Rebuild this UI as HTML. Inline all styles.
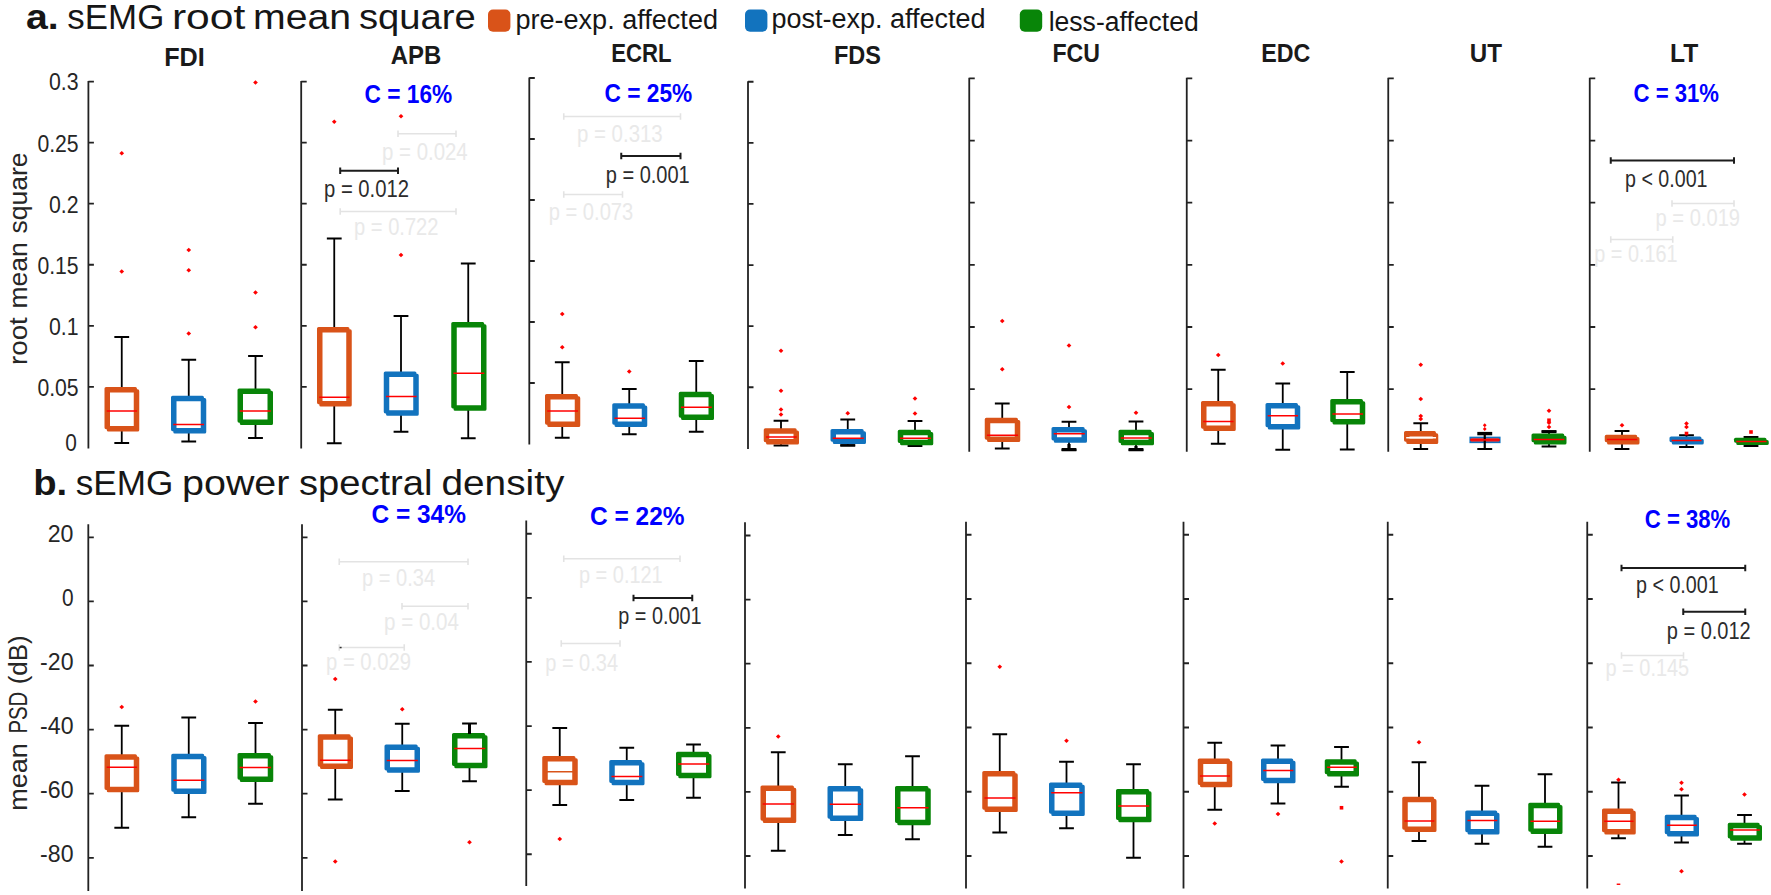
<!DOCTYPE html>
<html><head><meta charset="utf-8"><title>sEMG figure</title>
<style>
html,body{margin:0;padding:0;background:#fff;}
body{width:1771px;height:895px;overflow:hidden;}
svg{display:block;}
text{font-family:"Liberation Sans","DejaVu Sans",sans-serif;fill:#161616;}
.ttl{font-size:34.5px;}
.ttl2{font-size:35px;}
.ttb{font-weight:700;}
.lg{font-size:27px;}
.ml{font-size:26px;font-weight:700;fill:#1a1a1a;}
.tk{font-size:23.6px;fill:#262626;}
.tkb{font-size:24.2px;fill:#262626;}
.yl{font-size:26px;fill:#262626;}
.c{font-size:26px;font-weight:700;fill:#0000ff;}
.pd{font-size:23.5px;fill:#2c2c2c;}
.pg{font-size:23.5px;fill:#e9e9e9;}
.w{stroke:#000;stroke-width:1.8;fill:none;}
.ax{stroke:#222222;stroke-width:1.8;fill:none;}
</style></head><body>
<svg width="1771" height="895" viewBox="0 0 1771 895">
<rect width="1771" height="895" fill="#fff"/>
<text id="t0" x="25.92" y="29.30" class="ttl ttb" textLength="32.67" lengthAdjust="spacingAndGlyphs">a.</text>
<text id="t1" x="67.38" y="29.30" class="ttl" textLength="96.91" lengthAdjust="spacingAndGlyphs">sEMG</text>
<text id="t2" x="171.92" y="29.30" class="ttl" textLength="73.40" lengthAdjust="spacingAndGlyphs">root</text>
<text id="t3" x="253.14" y="29.30" class="ttl" textLength="98.05" lengthAdjust="spacingAndGlyphs">mean</text>
<text id="t4" x="358.91" y="29.30" class="ttl" textLength="116.81" lengthAdjust="spacingAndGlyphs">square</text>
<text id="t5" x="33.17" y="495.00" class="ttl2 ttb" textLength="34.00" lengthAdjust="spacingAndGlyphs">b.</text>
<text id="t6" x="75.77" y="495.00" class="ttl2" textLength="97.58" lengthAdjust="spacingAndGlyphs">sEMG</text>
<text id="t7" x="182.00" y="495.00" class="ttl2" textLength="107.44" lengthAdjust="spacingAndGlyphs">power</text>
<text id="t8" x="298.99" y="495.00" class="ttl2" textLength="133.53" lengthAdjust="spacingAndGlyphs">spectral</text>
<text id="t9" x="441.50" y="495.00" class="ttl2" textLength="122.79" lengthAdjust="spacingAndGlyphs">density</text>
<rect x="488" y="9.5" width="22.4" height="22.3" rx="5" ry="5" fill="#D95319"/>
<text id="t10" x="515.45" y="29.00" class="lg" textLength="202.54" lengthAdjust="spacingAndGlyphs">pre-exp. affected</text>
<rect x="745" y="9.5" width="22.4" height="22.3" rx="5" ry="5" fill="#1273BE"/>
<text id="t11" x="771.48" y="27.80" class="lg" textLength="214.06" lengthAdjust="spacingAndGlyphs">post-exp. affected</text>
<rect x="1019.8" y="9.5" width="22.4" height="22.3" rx="5" ry="5" fill="#088508"/>
<text id="t12" x="1048.69" y="30.50" class="lg" textLength="150.04" lengthAdjust="spacingAndGlyphs">less-affected</text>
<text id="t13" x="164.18" y="66.20" class="ml" textLength="40.64" lengthAdjust="spacingAndGlyphs">FDI</text>
<text id="t14" x="390.68" y="63.70" class="ml" textLength="50.54" lengthAdjust="spacingAndGlyphs">APB</text>
<text id="t15" x="611.25" y="62.00" class="ml" textLength="60.27" lengthAdjust="spacingAndGlyphs">ECRL</text>
<text id="t16" x="834.00" y="64.30" class="ml" textLength="47.00" lengthAdjust="spacingAndGlyphs">FDS</text>
<text id="t17" x="1052.46" y="62.00" class="ml" textLength="47.54" lengthAdjust="spacingAndGlyphs">FCU</text>
<text id="t18" x="1261.23" y="62.00" class="ml" textLength="49.06" lengthAdjust="spacingAndGlyphs">EDC</text>
<text id="t19" x="1469.77" y="62.00" class="ml" textLength="32.23" lengthAdjust="spacingAndGlyphs">UT</text>
<text id="t20" x="1670.00" y="62.00" class="ml" textLength="28.27" lengthAdjust="spacingAndGlyphs">LT</text>
<path d="M88.40 81.10V448.50M88.40 81.60h5.5M88.40 142.65h5.5M88.40 203.70h5.5M88.40 264.75h5.5M88.40 325.80h5.5M88.40 386.85h5.5" class="ax"/>
<path d="M301.20 81.10V448.50M301.20 81.60h5.5M301.20 142.65h5.5M301.20 203.70h5.5M301.20 264.75h5.5M301.20 325.80h5.5M301.20 386.85h5.5" class="ax"/>
<path d="M529.30 77.60V444.50M529.30 78.00h5.5M529.30 139.00h5.5M529.30 200.00h5.5M529.30 261.00h5.5M529.30 322.00h5.5M529.30 383.00h5.5" class="ax"/>
<path d="M748.00 81.20V449.00M748.00 81.75h5.5M748.00 142.85h5.5M748.00 203.95h5.5M748.00 265.05h5.5M748.00 326.15h5.5M748.00 387.25h5.5" class="ax"/>
<path d="M969.25 77.80V451.75M969.25 78.40h5.5M969.25 140.55h5.5M969.25 202.70h5.5M969.25 264.85h5.5M969.25 327.00h5.5M969.25 389.15h5.5" class="ax"/>
<path d="M1186.75 77.80V451.75M1186.75 78.40h5.5M1186.75 140.55h5.5M1186.75 202.70h5.5M1186.75 264.85h5.5M1186.75 327.00h5.5M1186.75 389.15h5.5" class="ax"/>
<path d="M1388.25 77.80V451.75M1388.25 78.40h5.5M1388.25 140.55h5.5M1388.25 202.70h5.5M1388.25 264.85h5.5M1388.25 327.00h5.5M1388.25 389.15h5.5" class="ax"/>
<path d="M1589.75 77.80V451.75M1589.75 78.40h5.5M1589.75 140.55h5.5M1589.75 202.70h5.5M1589.75 264.85h5.5M1589.75 327.00h5.5M1589.75 389.15h5.5" class="ax"/>
<text id="t21" x="49.00" y="90.40" class="tk" textLength="29.60" lengthAdjust="spacingAndGlyphs">0.3</text>
<text id="t22" x="37.40" y="151.50" class="tk" textLength="41.20" lengthAdjust="spacingAndGlyphs">0.25</text>
<text id="t23" x="49.00" y="212.60" class="tk" textLength="29.60" lengthAdjust="spacingAndGlyphs">0.2</text>
<text id="t24" x="37.40" y="273.70" class="tk" textLength="41.20" lengthAdjust="spacingAndGlyphs">0.15</text>
<text id="t25" x="49.00" y="334.80" class="tk" textLength="29.60" lengthAdjust="spacingAndGlyphs">0.1</text>
<text id="t26" x="37.40" y="395.90" class="tk" textLength="41.20" lengthAdjust="spacingAndGlyphs">0.05</text>
<text id="t27" x="65.20" y="451.40" class="tk" textLength="11.60" lengthAdjust="spacingAndGlyphs">0</text>
<text id="t28" x="47.70" y="541.65" class="tkb" textLength="25.80" lengthAdjust="spacingAndGlyphs">20</text>
<text id="t29" x="61.90" y="605.90" class="tkb" textLength="11.60" lengthAdjust="spacingAndGlyphs">0</text>
<text id="t30" x="40.10" y="669.90" class="tkb" textLength="33.40" lengthAdjust="spacingAndGlyphs">-20</text>
<text id="t31" x="40.10" y="734.40" class="tkb" textLength="33.40" lengthAdjust="spacingAndGlyphs">-40</text>
<text id="t32" x="40.10" y="798.40" class="tkb" textLength="33.40" lengthAdjust="spacingAndGlyphs">-60</text>
<text id="t33" x="40.10" y="862.40" class="tkb" textLength="33.40" lengthAdjust="spacingAndGlyphs">-80</text>
<text transform="translate(26.5 364.90) rotate(-90)" class="yl" textLength="47.60" lengthAdjust="spacingAndGlyphs">root</text>
<text transform="translate(26.5 308.60) rotate(-90)" class="yl" textLength="66.40" lengthAdjust="spacingAndGlyphs">mean</text>
<text transform="translate(26.5 233.50) rotate(-90)" class="yl" textLength="81.10" lengthAdjust="spacingAndGlyphs">square</text>
<text transform="translate(26.5 810.80) rotate(-90)" class="yl" textLength="67.60" lengthAdjust="spacingAndGlyphs">mean</text>
<text transform="translate(26.5 733.50) rotate(-90)" class="yl" textLength="41.80" lengthAdjust="spacingAndGlyphs">PSD</text>
<text transform="translate(26.5 684.30) rotate(-90)" class="yl" textLength="48.90" lengthAdjust="spacingAndGlyphs">(dB)</text>
<path d="M121.75 388.00V337.00M114.35 337.00H129.15" class="w"/><path d="M121.75 430.00V443.00M114.35 443.00H129.15" class="w"/><rect x="106.10" y="388.60" width="29.25" height="39.00" fill="none" stroke="#D95319" stroke-width="3.2" stroke-linejoin="round"/><rect x="108.40" y="390.90" width="29.25" height="39.00" fill="none" stroke="#D95319" stroke-width="3.2" stroke-linejoin="round"/><path d="M106.70 411.00H137.05" stroke="#ff0000" stroke-width="1.5" fill="none"/><path d="M119.40 153.25L121.75 151.05L124.10 153.25L121.75 155.45Z" fill="#ff0000"/><path d="M119.40 271.50L121.75 269.30L124.10 271.50L121.75 273.70Z" fill="#ff0000"/>
<path d="M188.75 396.75V359.75M181.35 359.75H196.15" class="w"/><path d="M188.75 432.00V441.50M181.35 441.50H196.15" class="w"/><rect x="172.60" y="397.35" width="29.75" height="32.25" fill="none" stroke="#1273BE" stroke-width="3.2" stroke-linejoin="round"/><rect x="174.90" y="399.65" width="29.75" height="32.25" fill="none" stroke="#1273BE" stroke-width="3.2" stroke-linejoin="round"/><path d="M173.20 424.50H204.05" stroke="#ff0000" stroke-width="1.5" fill="none"/><path d="M186.40 250.00L188.75 247.80L191.10 250.00L188.75 252.20Z" fill="#ff0000"/><path d="M186.40 270.25L188.75 268.05L191.10 270.25L188.75 272.45Z" fill="#ff0000"/><path d="M186.40 333.50L188.75 331.30L191.10 333.50L188.75 335.70Z" fill="#ff0000"/>
<path d="M255.50 389.50V356.00M248.10 356.00H262.90" class="w"/><path d="M255.50 423.50V438.00M248.10 438.00H262.90" class="w"/><rect x="239.10" y="390.10" width="30.00" height="31.00" fill="none" stroke="#088508" stroke-width="3.2" stroke-linejoin="round"/><rect x="241.40" y="392.40" width="30.00" height="31.00" fill="none" stroke="#088508" stroke-width="3.2" stroke-linejoin="round"/><path d="M239.70 411.00H270.80" stroke="#ff0000" stroke-width="1.5" fill="none"/><path d="M253.15 82.50L255.50 80.30L257.85 82.50L255.50 84.70Z" fill="#ff0000"/><path d="M253.15 292.50L255.50 290.30L257.85 292.50L255.50 294.70Z" fill="#ff0000"/><path d="M253.15 327.25L255.50 325.05L257.85 327.25L255.50 329.45Z" fill="#ff0000"/>
<path d="M334.25 328.00V238.50M326.85 238.50H341.65" class="w"/><path d="M334.25 405.00V443.25M326.85 443.25H341.65" class="w"/><rect x="318.60" y="328.60" width="29.25" height="74.00" fill="none" stroke="#D95319" stroke-width="3.2" stroke-linejoin="round"/><rect x="320.90" y="330.90" width="29.25" height="74.00" fill="none" stroke="#D95319" stroke-width="3.2" stroke-linejoin="round"/><path d="M319.20 397.25H349.55" stroke="#ff0000" stroke-width="1.5" fill="none"/><path d="M331.90 121.75L334.25 119.55L336.60 121.75L334.25 123.95Z" fill="#ff0000"/>
<path d="M401.00 372.50V316.00M393.60 316.00H408.40" class="w"/><path d="M401.00 414.25V431.75M393.60 431.75H408.40" class="w"/><rect x="385.35" y="373.10" width="29.50" height="38.75" fill="none" stroke="#1273BE" stroke-width="3.2" stroke-linejoin="round"/><rect x="387.65" y="375.40" width="29.50" height="38.75" fill="none" stroke="#1273BE" stroke-width="3.2" stroke-linejoin="round"/><path d="M385.95 396.50H416.55" stroke="#ff0000" stroke-width="1.5" fill="none"/><path d="M398.65 116.25L401.00 114.05L403.35 116.25L401.00 118.45Z" fill="#ff0000"/><path d="M398.65 255.00L401.00 252.80L403.35 255.00L401.00 257.20Z" fill="#ff0000"/>
<path d="M468.25 323.00V263.50M460.85 263.50H475.65" class="w"/><path d="M468.25 409.25V438.25M460.85 438.25H475.65" class="w"/><rect x="452.85" y="323.60" width="29.75" height="83.25" fill="none" stroke="#088508" stroke-width="3.2" stroke-linejoin="round"/><rect x="455.15" y="325.90" width="29.75" height="83.25" fill="none" stroke="#088508" stroke-width="3.2" stroke-linejoin="round"/><path d="M453.45 373.25H484.30" stroke="#ff0000" stroke-width="1.5" fill="none"/>
<path d="M562.25 395.00V362.25M554.85 362.25H569.65" class="w"/><path d="M562.25 425.50V437.75M554.85 437.75H569.65" class="w"/><rect x="546.60" y="395.60" width="29.75" height="27.50" fill="none" stroke="#D95319" stroke-width="3.2" stroke-linejoin="round"/><rect x="548.90" y="397.90" width="29.75" height="27.50" fill="none" stroke="#D95319" stroke-width="3.2" stroke-linejoin="round"/><path d="M547.20 411.00H578.05" stroke="#ff0000" stroke-width="1.5" fill="none"/><path d="M559.90 314.00L562.25 311.80L564.60 314.00L562.25 316.20Z" fill="#ff0000"/><path d="M559.90 347.25L562.25 345.05L564.60 347.25L562.25 349.45Z" fill="#ff0000"/>
<path d="M629.25 404.25V389.00M621.85 389.00H636.65" class="w"/><path d="M629.25 425.50V434.25M621.85 434.25H636.65" class="w"/><rect x="613.85" y="404.85" width="29.50" height="18.25" fill="none" stroke="#1273BE" stroke-width="3.2" stroke-linejoin="round"/><rect x="616.15" y="407.15" width="29.50" height="18.25" fill="none" stroke="#1273BE" stroke-width="3.2" stroke-linejoin="round"/><path d="M614.45 418.25H645.05" stroke="#ff0000" stroke-width="1.5" fill="none"/><path d="M626.90 371.50L629.25 369.30L631.60 371.50L629.25 373.70Z" fill="#ff0000"/>
<path d="M696.25 392.75V361.00M688.85 361.00H703.65" class="w"/><path d="M696.25 418.50V431.75M688.85 431.75H703.65" class="w"/><rect x="680.35" y="393.35" width="29.75" height="22.75" fill="none" stroke="#088508" stroke-width="3.2" stroke-linejoin="round"/><rect x="682.65" y="395.65" width="29.75" height="22.75" fill="none" stroke="#088508" stroke-width="3.2" stroke-linejoin="round"/><path d="M680.95 407.25H711.80" stroke="#ff0000" stroke-width="1.5" fill="none"/>
<path d="M781.00 429.25V420.75M773.60 420.75H788.40" class="w"/><path d="M781.00 443.00V445.50M773.60 445.50H788.40" class="w"/><rect x="765.35" y="429.85" width="29.75" height="10.75" fill="none" stroke="#D95319" stroke-width="3.2" stroke-linejoin="round"/><rect x="767.65" y="432.15" width="29.75" height="10.75" fill="none" stroke="#D95319" stroke-width="3.2" stroke-linejoin="round"/><path d="M765.95 437.00H796.80" stroke="#ff0000" stroke-width="1.5" fill="none"/><path d="M778.65 350.75L781.00 348.55L783.35 350.75L781.00 352.95Z" fill="#ff0000"/><path d="M778.65 390.75L781.00 388.55L783.35 390.75L781.00 392.95Z" fill="#ff0000"/><path d="M778.65 409.50L781.00 407.30L783.35 409.50L781.00 411.70Z" fill="#ff0000"/><path d="M778.65 414.50L781.00 412.30L783.35 414.50L781.00 416.70Z" fill="#ff0000"/>
<path d="M847.75 430.00V419.50M840.35 419.50H855.15" class="w"/><path d="M847.75 442.50V445.30M840.35 445.30H855.15" class="w"/><rect x="832.10" y="430.60" width="30.00" height="9.50" fill="none" stroke="#1273BE" stroke-width="3.2" stroke-linejoin="round"/><rect x="834.40" y="432.90" width="30.00" height="9.50" fill="none" stroke="#1273BE" stroke-width="3.2" stroke-linejoin="round"/><path d="M832.70 438.25H863.80" stroke="#ff0000" stroke-width="1.5" fill="none"/><path d="M845.40 413.25L847.75 411.05L850.10 413.25L847.75 415.45Z" fill="#ff0000"/>
<path d="M915.00 430.75V421.00M907.60 421.00H922.40" class="w"/><path d="M915.00 443.75V446.00M907.60 446.00H922.40" class="w"/><rect x="899.35" y="431.35" width="30.00" height="10.00" fill="none" stroke="#088508" stroke-width="3.2" stroke-linejoin="round"/><rect x="901.65" y="433.65" width="30.00" height="10.00" fill="none" stroke="#088508" stroke-width="3.2" stroke-linejoin="round"/><path d="M899.95 438.25H931.05" stroke="#ff0000" stroke-width="1.5" fill="none"/><path d="M912.65 398.50L915.00 396.30L917.35 398.50L915.00 400.70Z" fill="#ff0000"/><path d="M912.65 413.50L915.00 411.30L917.35 413.50L915.00 415.70Z" fill="#ff0000"/>
<path d="M1002.25 418.75V403.50M994.85 403.50H1009.65" class="w"/><path d="M1002.25 440.50V448.50M994.85 448.50H1009.65" class="w"/><rect x="986.35" y="419.35" width="30.00" height="18.75" fill="none" stroke="#D95319" stroke-width="3.2" stroke-linejoin="round"/><rect x="988.65" y="421.65" width="30.00" height="18.75" fill="none" stroke="#D95319" stroke-width="3.2" stroke-linejoin="round"/><path d="M986.95 435.25H1018.05" stroke="#ff0000" stroke-width="1.5" fill="none"/><path d="M999.90 321.00L1002.25 318.80L1004.60 321.00L1002.25 323.20Z" fill="#ff0000"/><path d="M999.90 369.25L1002.25 367.05L1004.60 369.25L1002.25 371.45Z" fill="#ff0000"/>
<path d="M1069.00 428.00V421.75M1061.60 421.75H1076.40" class="w"/><path d="M1069.00 441.25V450.00M1061.60 450.00H1076.40" class="w"/><rect x="1053.10" y="428.60" width="30.00" height="10.25" fill="none" stroke="#1273BE" stroke-width="3.2" stroke-linejoin="round"/><rect x="1055.40" y="430.90" width="30.00" height="10.25" fill="none" stroke="#1273BE" stroke-width="3.2" stroke-linejoin="round"/><path d="M1053.70 433.75H1084.80" stroke="#ff0000" stroke-width="1.5" fill="none"/><path d="M1066.65 345.50L1069.00 343.30L1071.35 345.50L1069.00 347.70Z" fill="#ff0000"/><path d="M1066.65 407.00L1069.00 404.80L1071.35 407.00L1069.00 409.20Z" fill="#ff0000"/>
<path d="M1136.00 430.75V421.50M1128.60 421.50H1143.40" class="w"/><path d="M1136.00 443.75V450.00M1128.60 450.00H1143.40" class="w"/><rect x="1120.10" y="431.35" width="30.00" height="10.00" fill="none" stroke="#088508" stroke-width="3.2" stroke-linejoin="round"/><rect x="1122.40" y="433.65" width="30.00" height="10.00" fill="none" stroke="#088508" stroke-width="3.2" stroke-linejoin="round"/><path d="M1120.70 438.00H1151.80" stroke="#ff0000" stroke-width="1.5" fill="none"/><path d="M1133.65 412.75L1136.00 410.55L1138.35 412.75L1136.00 414.95Z" fill="#ff0000"/>
<path d="M1069 444V450M1061.6 449.6H1076.4M1136 446V450M1128.6 449.6H1143.4" class="w" style="stroke-width:3.2px"/>
<path d="M840.3 445.4H855.2" class="w" style="stroke-width:2.6px"/>
<path d="M1218.25 402.00V369.75M1210.85 369.75H1225.65" class="w"/><path d="M1218.25 429.50V443.75M1210.85 443.75H1225.65" class="w"/><rect x="1202.60" y="402.60" width="29.25" height="24.50" fill="none" stroke="#D95319" stroke-width="3.2" stroke-linejoin="round"/><rect x="1204.90" y="404.90" width="29.25" height="24.50" fill="none" stroke="#D95319" stroke-width="3.2" stroke-linejoin="round"/><path d="M1203.20 421.50H1233.55" stroke="#ff0000" stroke-width="1.5" fill="none"/><path d="M1215.90 355.00L1218.25 352.80L1220.60 355.00L1218.25 357.20Z" fill="#ff0000"/>
<path d="M1282.75 404.00V383.50M1275.35 383.50H1290.15" class="w"/><path d="M1282.75 428.00V449.75M1275.35 449.75H1290.15" class="w"/><rect x="1267.10" y="404.60" width="29.25" height="21.00" fill="none" stroke="#1273BE" stroke-width="3.2" stroke-linejoin="round"/><rect x="1269.40" y="406.90" width="29.25" height="21.00" fill="none" stroke="#1273BE" stroke-width="3.2" stroke-linejoin="round"/><path d="M1267.70 415.75H1298.05" stroke="#ff0000" stroke-width="1.5" fill="none"/><path d="M1280.40 363.50L1282.75 361.30L1285.10 363.50L1282.75 365.70Z" fill="#ff0000"/>
<path d="M1347.25 400.00V372.00M1339.85 372.00H1354.65" class="w"/><path d="M1347.25 423.00V449.50M1339.85 449.50H1354.65" class="w"/><rect x="1331.85" y="400.60" width="29.50" height="20.00" fill="none" stroke="#088508" stroke-width="3.2" stroke-linejoin="round"/><rect x="1334.15" y="402.90" width="29.50" height="20.00" fill="none" stroke="#088508" stroke-width="3.2" stroke-linejoin="round"/><path d="M1332.45 414.00H1363.05" stroke="#ff0000" stroke-width="1.5" fill="none"/>
<path d="M1420.75 432.00V423.25M1413.35 423.25H1428.15" class="w"/><path d="M1420.75 442.50V449.00M1413.35 449.00H1428.15" class="w"/><rect x="1405.60" y="432.60" width="28.75" height="7.50" fill="none" stroke="#D95319" stroke-width="3.2" stroke-linejoin="round"/><rect x="1407.90" y="434.90" width="28.75" height="7.50" fill="none" stroke="#D95319" stroke-width="3.2" stroke-linejoin="round"/><path d="M1406.20 437.75H1436.05" stroke="#ffffff" stroke-width="1.5" fill="none"/><path d="M1418.40 364.75L1420.75 362.55L1423.10 364.75L1420.75 366.95Z" fill="#ff0000"/><path d="M1418.40 399.00L1420.75 396.80L1423.10 399.00L1420.75 401.20Z" fill="#ff0000"/><path d="M1418.40 416.00L1420.75 413.80L1423.10 416.00L1420.75 418.20Z" fill="#ff0000"/><path d="M1418.40 419.00L1420.75 416.80L1423.10 419.00L1420.75 421.20Z" fill="#ff0000"/>
<rect x="1470.2" y="437.4" width="29.6" height="5" fill="#e03a3a" stroke="#1273BE" stroke-width="1.5"/>
<path d="M1484.75 433V449M1477.3 449H1492.2" class="w" style="stroke-width:2.2px"/>
<path d="M1477.3 433.6H1492.2" class="w" style="stroke-width:3.4px"/>
<path d="M1470 439.9H1500" stroke="#ff0000" stroke-width="1.6"/>
<path d="M1482.85 425.25L1484.75 423.35L1486.65 425.25L1484.75 427.15Z" fill="#f00"/>
<path d="M1482.85 429L1484.75 427.1L1486.65 429L1484.75 430.9Z" fill="#f00"/>
<path d="M1549.00 434.50V431.50M1541.60 431.50H1556.40" class="w"/><path d="M1549.00 443.00V446.50M1541.60 446.50H1556.40" class="w"/><rect x="1533.10" y="435.10" width="29.50" height="5.50" fill="none" stroke="#088508" stroke-width="3.2" stroke-linejoin="round"/><rect x="1535.40" y="437.40" width="29.50" height="5.50" fill="none" stroke="#088508" stroke-width="3.2" stroke-linejoin="round"/><path d="M1533.70 439.50H1564.30" stroke="#ff0000" stroke-width="1.5" fill="none"/><path d="M1546.65 410.75L1549.00 408.55L1551.35 410.75L1549.00 412.95Z" fill="#ff0000"/><rect x="1547.20" y="418.45" width="3.6" height="3.6" fill="#ff0000"/><path d="M1546.65 422.75L1549.00 420.55L1551.35 422.75L1549.00 424.95Z" fill="#ff0000"/><path d="M1546.65 427.00L1549.00 424.80L1551.35 427.00L1549.00 429.20Z" fill="#ff0000"/>
<path d="M1541.6 431.6H1556.4" class="w" style="stroke-width:3px"/>
<path d="M1622.00 435.75V431.00M1614.60 431.00H1629.40" class="w"/><path d="M1622.00 443.00V449.00M1614.60 449.00H1629.40" class="w"/><rect x="1606.35" y="436.35" width="29.25" height="4.25" fill="none" stroke="#D95319" stroke-width="3.2" stroke-linejoin="round"/><rect x="1608.65" y="438.65" width="29.25" height="4.25" fill="none" stroke="#D95319" stroke-width="3.2" stroke-linejoin="round"/><path d="M1606.95 439.50H1637.30" stroke="#ff0000" stroke-width="1.5" fill="none"/><path d="M1619.65 425.25L1622.00 423.05L1624.35 425.25L1622.00 427.45Z" fill="#ff0000"/>
<path d="M1686.50 437.50V435.25M1679.10 435.25H1693.90" class="w"/><path d="M1686.50 443.00V447.00M1679.10 447.00H1693.90" class="w"/><rect x="1671.10" y="438.10" width="28.75" height="2.50" fill="none" stroke="#1273BE" stroke-width="3.2" stroke-linejoin="round"/><rect x="1673.40" y="440.40" width="28.75" height="2.50" fill="none" stroke="#1273BE" stroke-width="3.2" stroke-linejoin="round"/><path d="M1671.70 440.50H1701.55" stroke="#ff0000" stroke-width="1.5" fill="none"/><path d="M1684.15 423.50L1686.50 421.30L1688.85 423.50L1686.50 425.70Z" fill="#ff0000"/><path d="M1684.15 427.00L1686.50 424.80L1688.85 427.00L1686.50 429.20Z" fill="#ff0000"/><rect x="1684.70" y="431.70" width="3.6" height="3.6" fill="#ff0000"/>
<path d="M1751.00 438.75V437.00M1743.60 437.00H1758.40" class="w"/><path d="M1751.00 443.50V446.00M1743.60 446.00H1758.40" class="w"/><rect x="1735.60" y="439.35" width="29.25" height="1.75" fill="none" stroke="#088508" stroke-width="3.2" stroke-linejoin="round"/><rect x="1737.90" y="441.65" width="29.25" height="1.75" fill="none" stroke="#088508" stroke-width="3.2" stroke-linejoin="round"/><path d="M1736.20 441.50H1766.55" stroke="#ff0000" stroke-width="1.5" fill="none"/><rect x="1749.20" y="430.20" width="3.6" height="3.6" fill="#ff0000"/>
<text id="t34" x="364.50" y="102.60" class="c" textLength="87.70" lengthAdjust="spacingAndGlyphs">C = 16%</text>
<path d="M398.00 133.75H456.00M398.00 130.55v6.4M456.00 130.55v6.4" stroke="#e3e3e3" stroke-width="1.6" fill="none"/>
<text id="t35" x="382.03" y="159.80" class="pg" textLength="85.72" lengthAdjust="spacingAndGlyphs">p = 0.024</text>
<path d="M340.20 170.75H398.00M340.20 167.55v6.4M398.00 167.55v6.4" stroke="#1c1c1c" stroke-width="2.0" fill="none"/>
<text id="t36" x="324.00" y="197.25" class="pd" textLength="85.00" lengthAdjust="spacingAndGlyphs">p = 0.012</text>
<path d="M340.20 211.50H456.00M340.20 208.30v6.4M456.00 208.30v6.4" stroke="#e3e3e3" stroke-width="1.6" fill="none"/>
<text id="t37" x="354.00" y="234.60" class="pg" textLength="84.50" lengthAdjust="spacingAndGlyphs">p = 0.722</text>
<text id="t38" x="604.50" y="101.85" class="c" textLength="87.70" lengthAdjust="spacingAndGlyphs">C = 25%</text>
<path d="M563.75 116.50H680.50M563.75 113.30v6.4M680.50 113.30v6.4" stroke="#e3e3e3" stroke-width="1.6" fill="none"/>
<text id="t39" x="576.98" y="142.05" class="pg" textLength="85.75" lengthAdjust="spacingAndGlyphs">p = 0.313</text>
<path d="M621.25 156.00H680.50M621.25 152.80v6.4M680.50 152.80v6.4" stroke="#1c1c1c" stroke-width="2.0" fill="none"/>
<text id="t40" x="605.75" y="183.00" class="pd" textLength="84.00" lengthAdjust="spacingAndGlyphs">p = 0.001</text>
<path d="M563.75 194.50H622.50M563.75 191.30v6.4M622.50 191.30v6.4" stroke="#e3e3e3" stroke-width="1.6" fill="none"/>
<text id="t41" x="548.73" y="220.30" class="pg" textLength="84.52" lengthAdjust="spacingAndGlyphs">p = 0.073</text>
<text id="t42" x="1633.54" y="101.85" class="c" textLength="85.48" lengthAdjust="spacingAndGlyphs">C = 31%</text>
<path d="M1610.75 160.50H1734.00M1610.75 157.30v6.4M1734.00 157.30v6.4" stroke="#1c1c1c" stroke-width="2.0" fill="none"/>
<text id="t43" x="1625.00" y="187.25" class="pd" textLength="82.50" lengthAdjust="spacingAndGlyphs">p &lt; 0.001</text>
<path d="M1672.00 203.50H1734.00M1672.00 200.30v6.4M1734.00 200.30v6.4" stroke="#e3e3e3" stroke-width="1.6" fill="none"/>
<text id="t44" x="1655.50" y="225.80" class="pg" textLength="84.54" lengthAdjust="spacingAndGlyphs">p = 0.019</text>
<path d="M1610.75 239.50H1672.75M1610.75 236.30v6.4M1672.75 236.30v6.4" stroke="#e3e3e3" stroke-width="1.6" fill="none"/>
<text id="t45" x="1594.25" y="262.30" class="pg" textLength="83.29" lengthAdjust="spacingAndGlyphs">p = 0.161</text>
<path d="M88.30 524.25V891.00M88.30 537.30h5.5M88.30 601.40h5.5M88.30 665.50h5.5M88.30 729.60h5.5M88.30 793.70h5.5M88.30 857.80h5.5" class="ax"/>
<path d="M302.00 524.25V891.00M302.00 537.30h5.5M302.00 601.40h5.5M302.00 665.50h5.5M302.00 729.60h5.5M302.00 793.70h5.5M302.00 857.80h5.5" class="ax"/>
<path d="M526.25 520.50V886.00M526.25 533.75h5.5M526.25 597.85h5.5M526.25 661.95h5.5M526.25 726.05h5.5M526.25 790.15h5.5M526.25 854.25h5.5" class="ax"/>
<path d="M745.00 522.25V888.50M745.00 535.50h5.5M745.00 599.60h5.5M745.00 663.70h5.5M745.00 727.80h5.5M745.00 791.90h5.5M745.00 856.00h5.5" class="ax"/>
<path d="M966.00 521.75V888.50M966.00 534.75h5.5M966.00 599.00h5.5M966.00 663.25h5.5M966.00 727.50h5.5M966.00 791.75h5.5M966.00 856.00h5.5" class="ax"/>
<path d="M1183.50 521.75V888.50M1183.50 534.75h5.5M1183.50 599.00h5.5M1183.50 663.25h5.5M1183.50 727.50h5.5M1183.50 791.75h5.5M1183.50 856.00h5.5" class="ax"/>
<path d="M1387.75 521.75V888.50M1387.75 534.75h5.5M1387.75 599.00h5.5M1387.75 663.25h5.5M1387.75 727.50h5.5M1387.75 791.75h5.5M1387.75 856.00h5.5" class="ax"/>
<path d="M1587.25 521.75V888.50M1587.25 534.75h5.5M1587.25 599.00h5.5M1587.25 663.25h5.5M1587.25 727.50h5.5M1587.25 791.75h5.5M1587.25 856.00h5.5" class="ax"/>
<path d="M121.75 755.25V725.75M114.35 725.75H129.15" class="w"/><path d="M121.75 790.75V827.75M114.35 827.75H129.15" class="w"/><rect x="106.10" y="755.85" width="29.25" height="32.50" fill="none" stroke="#D95319" stroke-width="3.2" stroke-linejoin="round"/><rect x="108.40" y="758.15" width="29.25" height="32.50" fill="none" stroke="#D95319" stroke-width="3.2" stroke-linejoin="round"/><path d="M106.70 767.25H137.05" stroke="#ff0000" stroke-width="1.5" fill="none"/><path d="M119.40 707.00L121.75 704.80L124.10 707.00L121.75 709.20Z" fill="#ff0000"/>
<path d="M188.75 754.75V717.50M181.35 717.50H196.15" class="w"/><path d="M188.75 792.50V817.25M181.35 817.25H196.15" class="w"/><rect x="172.85" y="755.35" width="29.75" height="34.75" fill="none" stroke="#1273BE" stroke-width="3.2" stroke-linejoin="round"/><rect x="175.15" y="757.65" width="29.75" height="34.75" fill="none" stroke="#1273BE" stroke-width="3.2" stroke-linejoin="round"/><path d="M173.45 780.25H204.30" stroke="#ff0000" stroke-width="1.5" fill="none"/>
<path d="M255.50 754.00V723.00M248.10 723.00H262.90" class="w"/><path d="M255.50 780.50V803.75M248.10 803.75H262.90" class="w"/><rect x="239.10" y="754.60" width="30.25" height="23.50" fill="none" stroke="#088508" stroke-width="3.2" stroke-linejoin="round"/><rect x="241.40" y="756.90" width="30.25" height="23.50" fill="none" stroke="#088508" stroke-width="3.2" stroke-linejoin="round"/><path d="M239.70 767.50H271.05" stroke="#ff0000" stroke-width="1.5" fill="none"/><path d="M253.15 701.50L255.50 699.30L257.85 701.50L255.50 703.70Z" fill="#ff0000"/>
<path d="M335.25 735.25V709.75M327.85 709.75H342.65" class="w"/><path d="M335.25 767.50V799.50M327.85 799.50H342.65" class="w"/><rect x="319.35" y="735.85" width="29.75" height="29.25" fill="none" stroke="#D95319" stroke-width="3.2" stroke-linejoin="round"/><rect x="321.65" y="738.15" width="29.75" height="29.25" fill="none" stroke="#D95319" stroke-width="3.2" stroke-linejoin="round"/><path d="M319.95 760.25H350.80" stroke="#ff0000" stroke-width="1.5" fill="none"/><path d="M332.90 679.00L335.25 676.80L337.60 679.00L335.25 681.20Z" fill="#ff0000"/><path d="M332.90 861.50L335.25 859.30L337.60 861.50L335.25 863.70Z" fill="#ff0000"/>
<path d="M402.25 745.50V723.75M394.85 723.75H409.65" class="w"/><path d="M402.25 771.25V791.00M394.85 791.00H409.65" class="w"/><rect x="386.10" y="746.10" width="30.00" height="22.75" fill="none" stroke="#1273BE" stroke-width="3.2" stroke-linejoin="round"/><rect x="388.40" y="748.40" width="30.00" height="22.75" fill="none" stroke="#1273BE" stroke-width="3.2" stroke-linejoin="round"/><path d="M386.70 760.50H417.80" stroke="#ff0000" stroke-width="1.5" fill="none"/><path d="M399.90 709.25L402.25 707.05L404.60 709.25L402.25 711.45Z" fill="#ff0000"/>
<path d="M469.50 734.00V723.50M462.10 723.50H476.90" class="w"/><path d="M469.50 766.75V781.25M462.10 781.25H476.90" class="w"/><rect x="453.60" y="734.60" width="30.00" height="29.75" fill="none" stroke="#088508" stroke-width="3.2" stroke-linejoin="round"/><rect x="455.90" y="736.90" width="30.00" height="29.75" fill="none" stroke="#088508" stroke-width="3.2" stroke-linejoin="round"/><path d="M454.20 748.50H485.30" stroke="#ff0000" stroke-width="1.5" fill="none"/><path d="M467.15 842.25L469.50 840.05L471.85 842.25L469.50 844.45Z" fill="#ff0000"/>
<path d="M469.5 724V734" class="w" style="stroke-width:3px"/>
<path d="M559.75 757.00V728.00M552.35 728.00H567.15" class="w"/><path d="M559.75 783.75V805.00M552.35 805.00H567.15" class="w"/><rect x="543.85" y="757.60" width="30.00" height="23.75" fill="none" stroke="#D95319" stroke-width="3.2" stroke-linejoin="round"/><rect x="546.15" y="759.90" width="30.00" height="23.75" fill="none" stroke="#D95319" stroke-width="3.2" stroke-linejoin="round"/><path d="M544.45 771.75H575.55" stroke="#D95319" stroke-width="1.5" fill="none"/><path d="M557.40 839.00L559.75 836.80L562.10 839.00L559.75 841.20Z" fill="#ff0000"/>
<path d="M626.75 761.00V747.75M619.35 747.75H634.15" class="w"/><path d="M626.75 783.75V800.00M619.35 800.00H634.15" class="w"/><rect x="610.85" y="761.60" width="29.75" height="19.75" fill="none" stroke="#1273BE" stroke-width="3.2" stroke-linejoin="round"/><rect x="613.15" y="763.90" width="29.75" height="19.75" fill="none" stroke="#1273BE" stroke-width="3.2" stroke-linejoin="round"/><path d="M611.45 776.50H642.30" stroke="#ff0000" stroke-width="1.5" fill="none"/>
<path d="M693.50 752.75V744.50M686.10 744.50H700.90" class="w"/><path d="M693.50 776.75V797.75M686.10 797.75H700.90" class="w"/><rect x="677.60" y="753.35" width="30.00" height="21.00" fill="none" stroke="#088508" stroke-width="3.2" stroke-linejoin="round"/><rect x="679.90" y="755.65" width="30.00" height="21.00" fill="none" stroke="#088508" stroke-width="3.2" stroke-linejoin="round"/><path d="M678.20 764.00H709.30" stroke="#ff0000" stroke-width="1.5" fill="none"/>
<path d="M778.25 786.50V752.25M770.85 752.25H785.65" class="w"/><path d="M778.25 821.50V850.75M770.85 850.75H785.65" class="w"/><rect x="762.10" y="787.10" width="30.25" height="32.00" fill="none" stroke="#D95319" stroke-width="3.2" stroke-linejoin="round"/><rect x="764.40" y="789.40" width="30.25" height="32.00" fill="none" stroke="#D95319" stroke-width="3.2" stroke-linejoin="round"/><path d="M762.70 804.00H794.05" stroke="#ff0000" stroke-width="1.5" fill="none"/><path d="M775.90 736.50L778.25 734.30L780.60 736.50L778.25 738.70Z" fill="#ff0000"/>
<path d="M845.25 787.00V764.25M837.85 764.25H852.65" class="w"/><path d="M845.25 819.50V835.00M837.85 835.00H852.65" class="w"/><rect x="829.10" y="787.60" width="30.25" height="29.50" fill="none" stroke="#1273BE" stroke-width="3.2" stroke-linejoin="round"/><rect x="831.40" y="789.90" width="30.25" height="29.50" fill="none" stroke="#1273BE" stroke-width="3.2" stroke-linejoin="round"/><path d="M829.70 804.25H861.05" stroke="#ff0000" stroke-width="1.5" fill="none"/>
<path d="M912.50 787.00V756.25M905.10 756.25H919.90" class="w"/><path d="M912.50 823.75V839.25M905.10 839.25H919.90" class="w"/><rect x="896.60" y="787.60" width="30.25" height="33.75" fill="none" stroke="#088508" stroke-width="3.2" stroke-linejoin="round"/><rect x="898.90" y="789.90" width="30.25" height="33.75" fill="none" stroke="#088508" stroke-width="3.2" stroke-linejoin="round"/><path d="M897.20 807.75H928.55" stroke="#ff0000" stroke-width="1.5" fill="none"/>
<path d="M999.75 772.00V734.25M992.35 734.25H1007.15" class="w"/><path d="M999.75 810.50V832.50M992.35 832.50H1007.15" class="w"/><rect x="983.85" y="772.60" width="30.00" height="35.50" fill="none" stroke="#D95319" stroke-width="3.2" stroke-linejoin="round"/><rect x="986.15" y="774.90" width="30.00" height="35.50" fill="none" stroke="#D95319" stroke-width="3.2" stroke-linejoin="round"/><path d="M984.45 798.00H1015.55" stroke="#ff0000" stroke-width="1.5" fill="none"/><path d="M997.40 666.75L999.75 664.55L1002.10 666.75L999.75 668.95Z" fill="#ff0000"/>
<path d="M1066.50 783.50V761.75M1059.10 761.75H1073.90" class="w"/><path d="M1066.50 814.50V828.25M1059.10 828.25H1073.90" class="w"/><rect x="1050.60" y="784.10" width="30.25" height="28.00" fill="none" stroke="#1273BE" stroke-width="3.2" stroke-linejoin="round"/><rect x="1052.90" y="786.40" width="30.25" height="28.00" fill="none" stroke="#1273BE" stroke-width="3.2" stroke-linejoin="round"/><path d="M1051.20 792.75H1082.55" stroke="#ff0000" stroke-width="1.5" fill="none"/><path d="M1064.15 740.75L1066.50 738.55L1068.85 740.75L1066.50 742.95Z" fill="#ff0000"/>
<path d="M1133.50 790.00V764.25M1126.10 764.25H1140.90" class="w"/><path d="M1133.50 820.75V857.75M1126.10 857.75H1140.90" class="w"/><rect x="1117.60" y="790.60" width="30.00" height="27.75" fill="none" stroke="#088508" stroke-width="3.2" stroke-linejoin="round"/><rect x="1119.90" y="792.90" width="30.00" height="27.75" fill="none" stroke="#088508" stroke-width="3.2" stroke-linejoin="round"/><path d="M1118.20 806.00H1149.30" stroke="#ff0000" stroke-width="1.5" fill="none"/>
<path d="M1214.75 759.50V742.75M1207.35 742.75H1222.15" class="w"/><path d="M1214.75 785.75V809.75M1207.35 809.75H1222.15" class="w"/><rect x="1199.35" y="760.10" width="29.00" height="23.25" fill="none" stroke="#D95319" stroke-width="3.2" stroke-linejoin="round"/><rect x="1201.65" y="762.40" width="29.00" height="23.25" fill="none" stroke="#D95319" stroke-width="3.2" stroke-linejoin="round"/><path d="M1199.95 776.00H1230.05" stroke="#ff0000" stroke-width="1.5" fill="none"/><path d="M1212.40 823.50L1214.75 821.30L1217.10 823.50L1214.75 825.70Z" fill="#ff0000"/>
<path d="M1278.00 759.50V745.50M1270.60 745.50H1285.40" class="w"/><path d="M1278.00 781.75V803.50M1270.60 803.50H1285.40" class="w"/><rect x="1262.60" y="760.10" width="29.00" height="19.25" fill="none" stroke="#1273BE" stroke-width="3.2" stroke-linejoin="round"/><rect x="1264.90" y="762.40" width="29.00" height="19.25" fill="none" stroke="#1273BE" stroke-width="3.2" stroke-linejoin="round"/><path d="M1263.20 770.50H1293.30" stroke="#ff0000" stroke-width="1.5" fill="none"/><path d="M1275.65 814.00L1278.00 811.80L1280.35 814.00L1278.00 816.20Z" fill="#ff0000"/>
<path d="M1341.50 760.25V747.00M1334.10 747.00H1348.90" class="w"/><path d="M1341.50 775.00V786.75M1334.10 786.75H1348.90" class="w"/><rect x="1326.35" y="760.85" width="28.75" height="11.75" fill="none" stroke="#088508" stroke-width="3.2" stroke-linejoin="round"/><rect x="1328.65" y="763.15" width="28.75" height="11.75" fill="none" stroke="#088508" stroke-width="3.2" stroke-linejoin="round"/><path d="M1326.95 767.25H1356.80" stroke="#ff0000" stroke-width="1.5" fill="none"/><rect x="1339.70" y="805.95" width="3.6" height="3.6" fill="#ff0000"/><path d="M1339.15 861.50L1341.50 859.30L1343.85 861.50L1341.50 863.70Z" fill="#ff0000"/>
<path d="M1419.00 797.75V762.25M1411.60 762.25H1426.40" class="w"/><path d="M1419.00 830.50V841.00M1411.60 841.00H1426.40" class="w"/><rect x="1403.85" y="798.35" width="28.75" height="29.75" fill="none" stroke="#D95319" stroke-width="3.2" stroke-linejoin="round"/><rect x="1406.15" y="800.65" width="28.75" height="29.75" fill="none" stroke="#D95319" stroke-width="3.2" stroke-linejoin="round"/><path d="M1404.45 821.00H1434.30" stroke="#ff0000" stroke-width="1.5" fill="none"/><path d="M1416.65 742.25L1419.00 740.05L1421.35 742.25L1419.00 744.45Z" fill="#ff0000"/>
<path d="M1482.00 811.50V785.75M1474.60 785.75H1489.40" class="w"/><path d="M1482.00 833.00V843.75M1474.60 843.75H1489.40" class="w"/><rect x="1466.85" y="812.10" width="28.75" height="18.50" fill="none" stroke="#1273BE" stroke-width="3.2" stroke-linejoin="round"/><rect x="1469.15" y="814.40" width="28.75" height="18.50" fill="none" stroke="#1273BE" stroke-width="3.2" stroke-linejoin="round"/><path d="M1467.45 820.50H1497.30" stroke="#ff0000" stroke-width="1.5" fill="none"/>
<path d="M1545.00 803.75V774.25M1537.60 774.25H1552.40" class="w"/><path d="M1545.00 832.50V846.75M1537.60 846.75H1552.40" class="w"/><rect x="1529.85" y="804.35" width="28.75" height="25.75" fill="none" stroke="#088508" stroke-width="3.2" stroke-linejoin="round"/><rect x="1532.15" y="806.65" width="28.75" height="25.75" fill="none" stroke="#088508" stroke-width="3.2" stroke-linejoin="round"/><path d="M1530.45 821.25H1560.30" stroke="#ff0000" stroke-width="1.5" fill="none"/>
<path d="M1618.50 809.50V782.50M1611.10 782.50H1625.90" class="w"/><path d="M1618.50 833.00V838.25M1611.10 838.25H1625.90" class="w"/><rect x="1603.60" y="810.10" width="28.25" height="20.50" fill="none" stroke="#D95319" stroke-width="3.2" stroke-linejoin="round"/><rect x="1605.90" y="812.40" width="28.25" height="20.50" fill="none" stroke="#D95319" stroke-width="3.2" stroke-linejoin="round"/><path d="M1604.20 821.25H1633.55" stroke="#ff0000" stroke-width="1.5" fill="none"/><path d="M1616.15 779.75L1618.50 777.55L1620.85 779.75L1618.50 781.95Z" fill="#ff0000"/><rect x="1616.70" y="883.55" width="3.6" height="1.4" fill="#ff0000"/>
<path d="M1681.50 815.75V795.50M1674.10 795.50H1688.90" class="w"/><path d="M1681.50 835.00V842.50M1674.10 842.50H1688.90" class="w"/><rect x="1666.35" y="816.35" width="28.75" height="16.25" fill="none" stroke="#1273BE" stroke-width="3.2" stroke-linejoin="round"/><rect x="1668.65" y="818.65" width="28.75" height="16.25" fill="none" stroke="#1273BE" stroke-width="3.2" stroke-linejoin="round"/><path d="M1666.95 825.25H1696.80" stroke="#ff0000" stroke-width="1.5" fill="none"/><path d="M1679.15 782.75L1681.50 780.55L1683.85 782.75L1681.50 784.95Z" fill="#ff0000"/><path d="M1679.15 789.25L1681.50 787.05L1683.85 789.25L1681.50 791.45Z" fill="#ff0000"/><path d="M1679.15 871.25L1681.50 869.05L1683.85 871.25L1681.50 873.45Z" fill="#ff0000"/>
<path d="M1744.50 823.75V815.00M1737.10 815.00H1751.90" class="w"/><path d="M1744.50 839.25V843.75M1737.10 843.75H1751.90" class="w"/><rect x="1729.35" y="824.35" width="28.75" height="12.50" fill="none" stroke="#088508" stroke-width="3.2" stroke-linejoin="round"/><rect x="1731.65" y="826.65" width="28.75" height="12.50" fill="none" stroke="#088508" stroke-width="3.2" stroke-linejoin="round"/><path d="M1729.95 830.00H1759.80" stroke="#ff0000" stroke-width="1.5" fill="none"/><path d="M1742.15 794.50L1744.50 792.30L1746.85 794.50L1744.50 796.70Z" fill="#ff0000"/>
<text id="t46" x="371.46" y="523.45" class="c" textLength="94.50" lengthAdjust="spacingAndGlyphs">C = 34%</text>
<path d="M339.25 561.75H468.00M339.25 558.55v6.4M468.00 558.55v6.4" stroke="#e3e3e3" stroke-width="1.6" fill="none"/>
<text id="t47" x="362.01" y="586.15" class="pg" textLength="73.03" lengthAdjust="spacingAndGlyphs">p = 0.34</text>
<path d="M402.00 606.25H468.00M402.00 603.05v6.4M468.00 603.05v6.4" stroke="#e3e3e3" stroke-width="1.6" fill="none"/>
<text id="t48" x="384.00" y="629.90" class="pg" textLength="75.00" lengthAdjust="spacingAndGlyphs">p = 0.04</text>
<path d="M339.25 647.50H404.25M339.25 644.30v6.4M404.25 644.30v6.4" stroke="#e3e3e3" stroke-width="1.6" fill="none"/>
<text id="t49" x="326.00" y="669.50" class="pg" textLength="85.00" lengthAdjust="spacingAndGlyphs">p = 0.029</text>
<rect x="339.6" y="646.8" width="2" height="1.5" fill="#333"/>
<text id="t50" x="590.00" y="524.70" class="c" textLength="94.50" lengthAdjust="spacingAndGlyphs">C = 22%</text>
<path d="M563.75 558.75H680.00M563.75 555.55v6.4M680.00 555.55v6.4" stroke="#e3e3e3" stroke-width="1.6" fill="none"/>
<text id="t51" x="578.98" y="582.90" class="pg" textLength="83.75" lengthAdjust="spacingAndGlyphs">p = 0.121</text>
<path d="M633.50 598.00H692.25M633.50 594.80v6.4M692.25 594.80v6.4" stroke="#1c1c1c" stroke-width="2.0" fill="none"/>
<text id="t52" x="618.25" y="623.85" class="pd" textLength="83.29" lengthAdjust="spacingAndGlyphs">p = 0.001</text>
<path d="M561.25 643.50H620.00M561.25 640.30v6.4M620.00 640.30v6.4" stroke="#e3e3e3" stroke-width="1.6" fill="none"/>
<text id="t53" x="545.24" y="670.90" class="pg" textLength="72.78" lengthAdjust="spacingAndGlyphs">p = 0.34</text>
<text id="t54" x="1644.77" y="527.70" class="c" textLength="85.48" lengthAdjust="spacingAndGlyphs">C = 38%</text>
<path d="M1621.50 568.00H1745.25M1621.50 564.80v6.4M1745.25 564.80v6.4" stroke="#1c1c1c" stroke-width="2.0" fill="none"/>
<text id="t55" x="1635.98" y="592.60" class="pd" textLength="82.75" lengthAdjust="spacingAndGlyphs">p &lt; 0.001</text>
<path d="M1683.25 611.75H1745.25M1683.25 608.55v6.4M1745.25 608.55v6.4" stroke="#1c1c1c" stroke-width="2.0" fill="none"/>
<text id="t56" x="1666.73" y="639.35" class="pd" textLength="84.04" lengthAdjust="spacingAndGlyphs">p = 0.012</text>
<path d="M1621.50 655.50H1683.50M1621.50 652.30v6.4M1683.50 652.30v6.4" stroke="#e3e3e3" stroke-width="1.6" fill="none"/>
<text id="t57" x="1605.48" y="675.90" class="pg" textLength="83.75" lengthAdjust="spacingAndGlyphs">p = 0.145</text>
</svg>
</body></html>
